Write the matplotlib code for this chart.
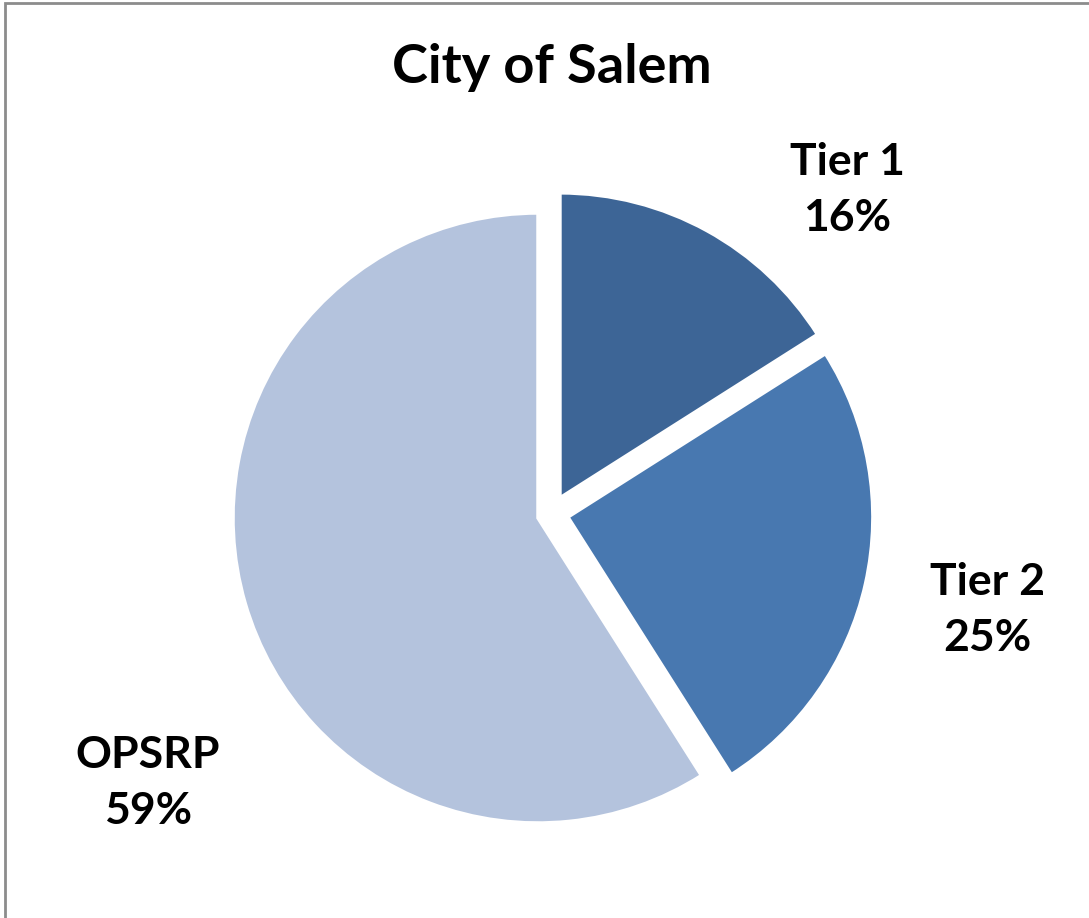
import matplotlib
matplotlib.use("Agg")
import matplotlib.pyplot as plt
from matplotlib.patches import Rectangle

plt.rcParams["font.family"] = ["Lato", "DejaVu Sans"]

# ── data ──
labels = ["Tier 1", "Tier 2", "OPSRP"]
shares = [16, 25, 59]
colors = ["#3D6596", "#4878B0", "#B4C3DD"]

# slice shift (x, y) in radius units, like the Excel "explode"
shifts = [(0.072, 0.066), (0.098, 0.003), (0.0, 0.0)]

# label centres in pixels (x, y from top)
label_px = [(847, 190), (987, 610), (148, 783)]

W, H = 1089, 918
cx, cy, r = 538, 518, 305

fig = plt.figure(figsize=(W / 100, H / 100), dpi=100)
ax = fig.add_axes([0, 0, 1, 1])

wedges, _ = ax.pie(shares, colors=colors, startangle=90,
                   counterclock=False, radius=1.0,
                   wedgeprops=dict(edgecolor="white", linewidth=2.5))
for w, (dx, dy) in zip(wedges, shifts):
    w.set_center((dx, dy))

# pie() resets the limits, so set them afterwards
ax.set_xlim(-cx / r, (W - cx) / r)
ax.set_ylim(-(H - cy) / r, cy / r)
ax.set_aspect("equal")
ax.axis("off")

for lab, val, (px, py) in zip(labels, shares, label_px):
    ax.text((px - cx) / r, (cy - py) / r, f"{lab}\n{val}%", ha="center",
            va="center", fontsize=32, fontweight="bold", linespacing=1.5)

fig.text(552 / W, 1 - 68 / H, "City of Salem", ha="center", va="center",
         fontsize=39, fontweight="bold")

fig.patches.append(Rectangle((5 / W, -0.1), 1.2, 1.1 - 3 / H, transform=fig.transFigure,
                             fill=False, edgecolor="#8C8C8C", linewidth=2))

fig.savefig("out.png", dpi=100)
